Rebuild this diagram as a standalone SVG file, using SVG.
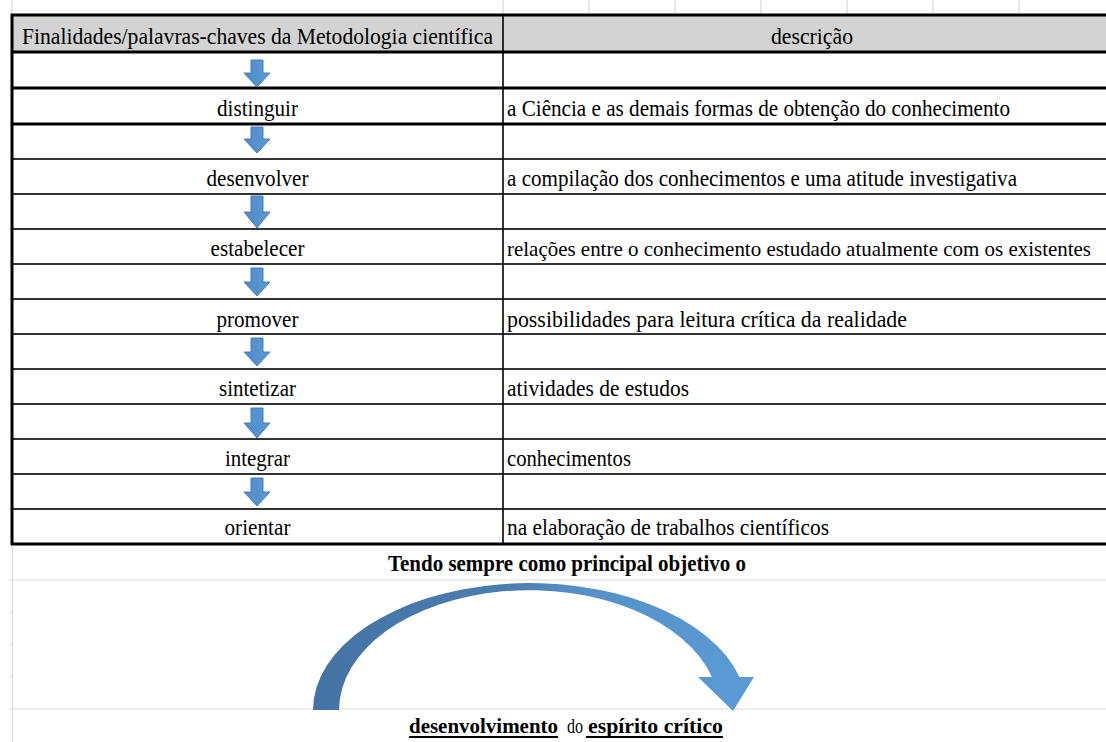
<svg xmlns="http://www.w3.org/2000/svg" width="1106" height="742" viewBox="0 0 1106 742">
<style>
.grid{stroke:#d9d9d9;stroke-width:1.2;fill:none}
.thick{stroke:#000;stroke-width:3;fill:none}
.thin{stroke:#333;stroke-width:1.8;fill:none}
.t{font-family:'Liberation Serif','Times New Roman','DejaVu Serif',serif;font-size:23px;fill:#000}
.s{font-size:21.5px}
.c{text-anchor:middle}
.b{font-weight:bold}
.dn{fill:url(#dg);stroke:#4a7ebb;stroke-width:1}
.ul{stroke:#000;stroke-width:2}
</style>
<defs>
<linearGradient id="dg" x1="0" y1="0" x2="1" y2="0">
<stop offset="0" stop-color="#4f8bc6"/>
<stop offset="1" stop-color="#5b9bd5"/>
</linearGradient>
<linearGradient id="cg" gradientUnits="userSpaceOnUse" x1="313" y1="0" x2="754" y2="0">
<stop offset="0" stop-color="#4474a4"/>
<stop offset="0.45" stop-color="#4a7db1"/>
<stop offset="0.6" stop-color="#5690c9"/>
<stop offset="1" stop-color="#5b9bd5"/>
</linearGradient>
</defs>

<g id="gridlines">
<line class="grid" x1="12" y1="0" x2="12" y2="15"/>
<line class="grid" x1="503" y1="0" x2="503" y2="15"/>
<line class="grid" x1="589" y1="0" x2="589" y2="15"/>
<line class="grid" x1="675" y1="0" x2="675" y2="15"/>
<line class="grid" x1="761" y1="0" x2="761" y2="15"/>
<line class="grid" x1="847" y1="0" x2="847" y2="15"/>
<line class="grid" x1="933" y1="0" x2="933" y2="15"/>
<line class="grid" x1="1019" y1="0" x2="1019" y2="15"/>
<line class="grid" x1="12.5" y1="545" x2="12.5" y2="742"/>
<line class="grid" x1="9" y1="580" x2="1106" y2="580"/>
<line class="grid" x1="9" y1="709" x2="1106" y2="709"/>
<line class="grid" x1="9" y1="613" x2="12" y2="613"/>
<line class="grid" x1="9" y1="645" x2="12" y2="645"/>
<line class="grid" x1="9" y1="677" x2="12" y2="677"/>
</g>

<g id="table">
<rect x="12" y="15" width="1094" height="37" fill="#d3d3d3"/>
<line class="thin" x1="12" y1="159" x2="1106" y2="159"/>
<line class="thin" x1="12" y1="194" x2="1106" y2="194"/>
<line class="thin" x1="12" y1="229" x2="1106" y2="229"/>
<line class="thin" x1="12" y1="264" x2="1106" y2="264"/>
<line class="thin" x1="12" y1="299" x2="1106" y2="299"/>
<line class="thin" x1="12" y1="334" x2="1106" y2="334"/>
<line class="thin" x1="12" y1="369" x2="1106" y2="369"/>
<line class="thin" x1="12" y1="404" x2="1106" y2="404"/>
<line class="thin" x1="12" y1="439" x2="1106" y2="439"/>
<line class="thin" x1="12" y1="474" x2="1106" y2="474"/>
<line class="thin" x1="12" y1="509" x2="1106" y2="509"/>
<line class="thin" x1="503" y1="15" x2="503" y2="544" style="stroke:#000;stroke-width:1.6"/>
<line class="thick" x1="11" y1="15" x2="1106" y2="15"/>
<line class="thick" x1="11" y1="52" x2="1106" y2="52"/>
<line class="thick" x1="11" y1="88" x2="1106" y2="88"/>
<line class="thick" x1="11" y1="124" x2="1106" y2="124"/>
<line class="thick" x1="11" y1="544" x2="1106" y2="544"/>
<line class="thick" x1="12" y1="14" x2="12" y2="545"/>
</g>

<g id="header">
<text class="t" x="22" y="44" textLength="471" lengthAdjust="spacingAndGlyphs">Finalidades/palavras-chaves da Metodologia científica</text>
<text class="t" x="771" y="44" textLength="82" lengthAdjust="spacingAndGlyphs">descrição</text>
</g>

<g id="row-distinguir">
<text class="t c" x="257.5" y="116" textLength="81" lengthAdjust="spacingAndGlyphs">distinguir</text>
<text class="t" x="507" y="116" textLength="503" lengthAdjust="spacingAndGlyphs">a Ciência e as demais formas de obtenção do conhecimento</text>
</g>
<g id="row-desenvolver">
<text class="t c" x="257.5" y="186" textLength="102" lengthAdjust="spacingAndGlyphs">desenvolver</text>
<text class="t" x="507" y="186" textLength="510" lengthAdjust="spacingAndGlyphs">a compilação dos conhecimentos e uma atitude investigativa</text>
</g>
<g id="row-estabelecer">
<text class="t c" x="257.5" y="256" textLength="94" lengthAdjust="spacingAndGlyphs">estabelecer</text>
<text class="t s" x="507" y="256" textLength="584" lengthAdjust="spacingAndGlyphs">relações entre o conhecimento estudado atualmente com os existentes</text>
</g>
<g id="row-promover">
<text class="t c" x="257.5" y="327" textLength="82" lengthAdjust="spacingAndGlyphs">promover</text>
<text class="t" x="507" y="327" textLength="400" lengthAdjust="spacingAndGlyphs">possibilidades para leitura crítica da realidade</text>
</g>
<g id="row-sintetizar">
<text class="t c" x="257.5" y="396" textLength="77" lengthAdjust="spacingAndGlyphs">sintetizar</text>
<text class="t" x="507" y="396" textLength="182" lengthAdjust="spacingAndGlyphs">atividades de estudos</text>
</g>
<g id="row-integrar">
<text class="t c" x="257.5" y="466" textLength="65" lengthAdjust="spacingAndGlyphs">integrar</text>
<text class="t" x="507" y="466" textLength="124" lengthAdjust="spacingAndGlyphs">conhecimentos</text>
</g>
<g id="row-orientar">
<text class="t c" x="257.5" y="535" textLength="66" lengthAdjust="spacingAndGlyphs">orientar</text>
<text class="t" x="507" y="535" textLength="322" lengthAdjust="spacingAndGlyphs">na elaboração de trabalhos científicos</text>
</g>

<g id="goal">
<text class="t c b" x="567" y="571" textLength="358" lengthAdjust="spacingAndGlyphs">Tendo sempre como principal objetivo o</text>
</g>

<g id="result">
<text class="t s b" x="409" y="733" textLength="149" lengthAdjust="spacingAndGlyphs">desenvolvimento</text>
<text class="t s" x="567" y="733" textLength="16" lengthAdjust="spacingAndGlyphs">do</text>
<text class="t s b" x="588" y="733" textLength="135" lengthAdjust="spacingAndGlyphs">espírito crítico</text>
<line class="ul" x1="409" y1="737" x2="558" y2="737"/>
<line class="ul" x1="586" y1="737" x2="723" y2="737"/>
</g>

<g id="connectors">
<path class="dn" d="M251,60 H263 V73 H270 L257,87 L244,73 H251 Z"/>
<path class="dn" d="M251,127 H263 V139 H270 L257,153 L244,139 H251 Z"/>
<path class="dn" d="M251,196 H263 V212 H270 L257,228 L244,212 H251 Z"/>
<path class="dn" d="M251,268 H263 V282 H270 L257,296 L244,282 H251 Z"/>
<path class="dn" d="M251,338 H263 V352 H270 L257,366 L244,352 H251 Z"/>
<path class="dn" d="M251,408 H263 V423 H270 L257,438 L244,423 H251 Z"/>
<path class="dn" d="M251,478 H263 V492 H270 L257,506 L244,492 H251 Z"/>
<path id="curved-arrow" fill="url(#cg)" d="M313,710 A217,127 0 0 1 739.5,677 L754,677 L733,711 L698,677 L712,677 A190.2,120 0 0 0 339,710 Z"/>
</g>
</svg>
